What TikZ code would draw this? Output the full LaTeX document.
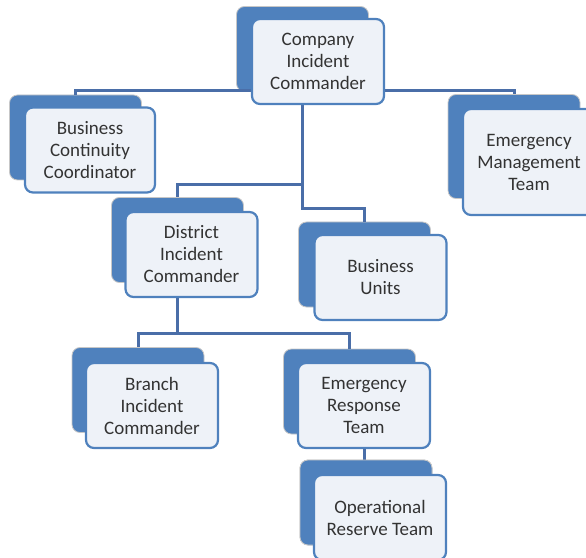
\documentclass[tikz,border=0pt]{standalone}
\usepackage{fontspec}
\setmainfont{Carlito}
\definecolor{backblue}{HTML}{4F81BD}
\definecolor{frontfill}{HTML}{EEF2F8}
\definecolor{connblue}{HTML}{4A6EA8}
\definecolor{txtgray}{HTML}{333333}
\begin{document}
\begin{tikzpicture}[x=1bp,y=-1bp,
  backbox/.style={draw=black!22, line width=0.8bp, fill=backblue, rounded corners=8bp,
    minimum width=132bp, minimum height=85bp, inner sep=0pt},
  frontbox/.style={draw=backblue, line width=2.2bp, fill=frontfill, rounded corners=8bp,
    minimum width=132bp, minimum height=85bp, inner sep=0pt, align=center,
    text=txtgray, font=\fontsize{19bp}{22bp}\selectfont},
  conn/.style={draw=connblue, line width=3bp}]
\useasboundingbox (0,0) rectangle (586,558);
\clip (0,0) rectangle (586,558);
% back boxes
\node[backbox] (cicb) at (302.5,49) {};
\node[backbox] (bccb) at (75.5,137.5) {};
\node[backbox, minimum height=104bp] (emtb) at (514,146.5) {};
\node[backbox] (distb) at (177.5,240) {};
\node[backbox] (bub) at (364.5,264.5) {};
\node[backbox] (brb) at (138,390) {};
\node[backbox] (ertb) at (349.5,391.5) {};
\node[backbox] (ortb) at (366,502.5) {};
% junctions
\coordinate (j2) at (302.5,185);
\coordinate (j3) at (302.5,209);
\coordinate (j4) at (177.5,333);
% connectors (behind front boxes)
\draw[conn] (bccb.north) -- ++(0,-4) -| (emtb.north);
\draw[conn] (cicb.south) -- (j3) -| (bub.north);
\draw[conn] (j2) -| (distb.north);
\draw[conn] (distb.south) -- (j4);
\draw[conn] (brb.north) |- (j4) -| (ertb.north);
% front boxes
\node[frontbox] (cic) at (318,61.5) {Company\\Incident\\Commander};
\node[frontbox, minimum width=130bp] (bcc) at (90,150) {Business\\Continuity\\Coordinator};
\node[frontbox, minimum height=106bp] (emt) at (529,162) {Emergency\\Management\\Team};
\node[frontbox] (dist) at (191.5,254.5) {District\\Incident\\Commander};
\node[frontbox] (bu) at (380.5,277.5) {Business\\Units};
\node[frontbox] (br) at (152,405.5) {Branch\\Incident\\Commander};
\node[frontbox] (ert) at (364,405.5) {Emergency\\Response\\Team};
\draw[conn] (ert.south) -- (ert.south |- ortb.north);
\node[backbox] at (ortb) {};
\node[frontbox] (ort) at (380,517.5) {Operational\\Reserve Team};
\end{tikzpicture}
\end{document}
